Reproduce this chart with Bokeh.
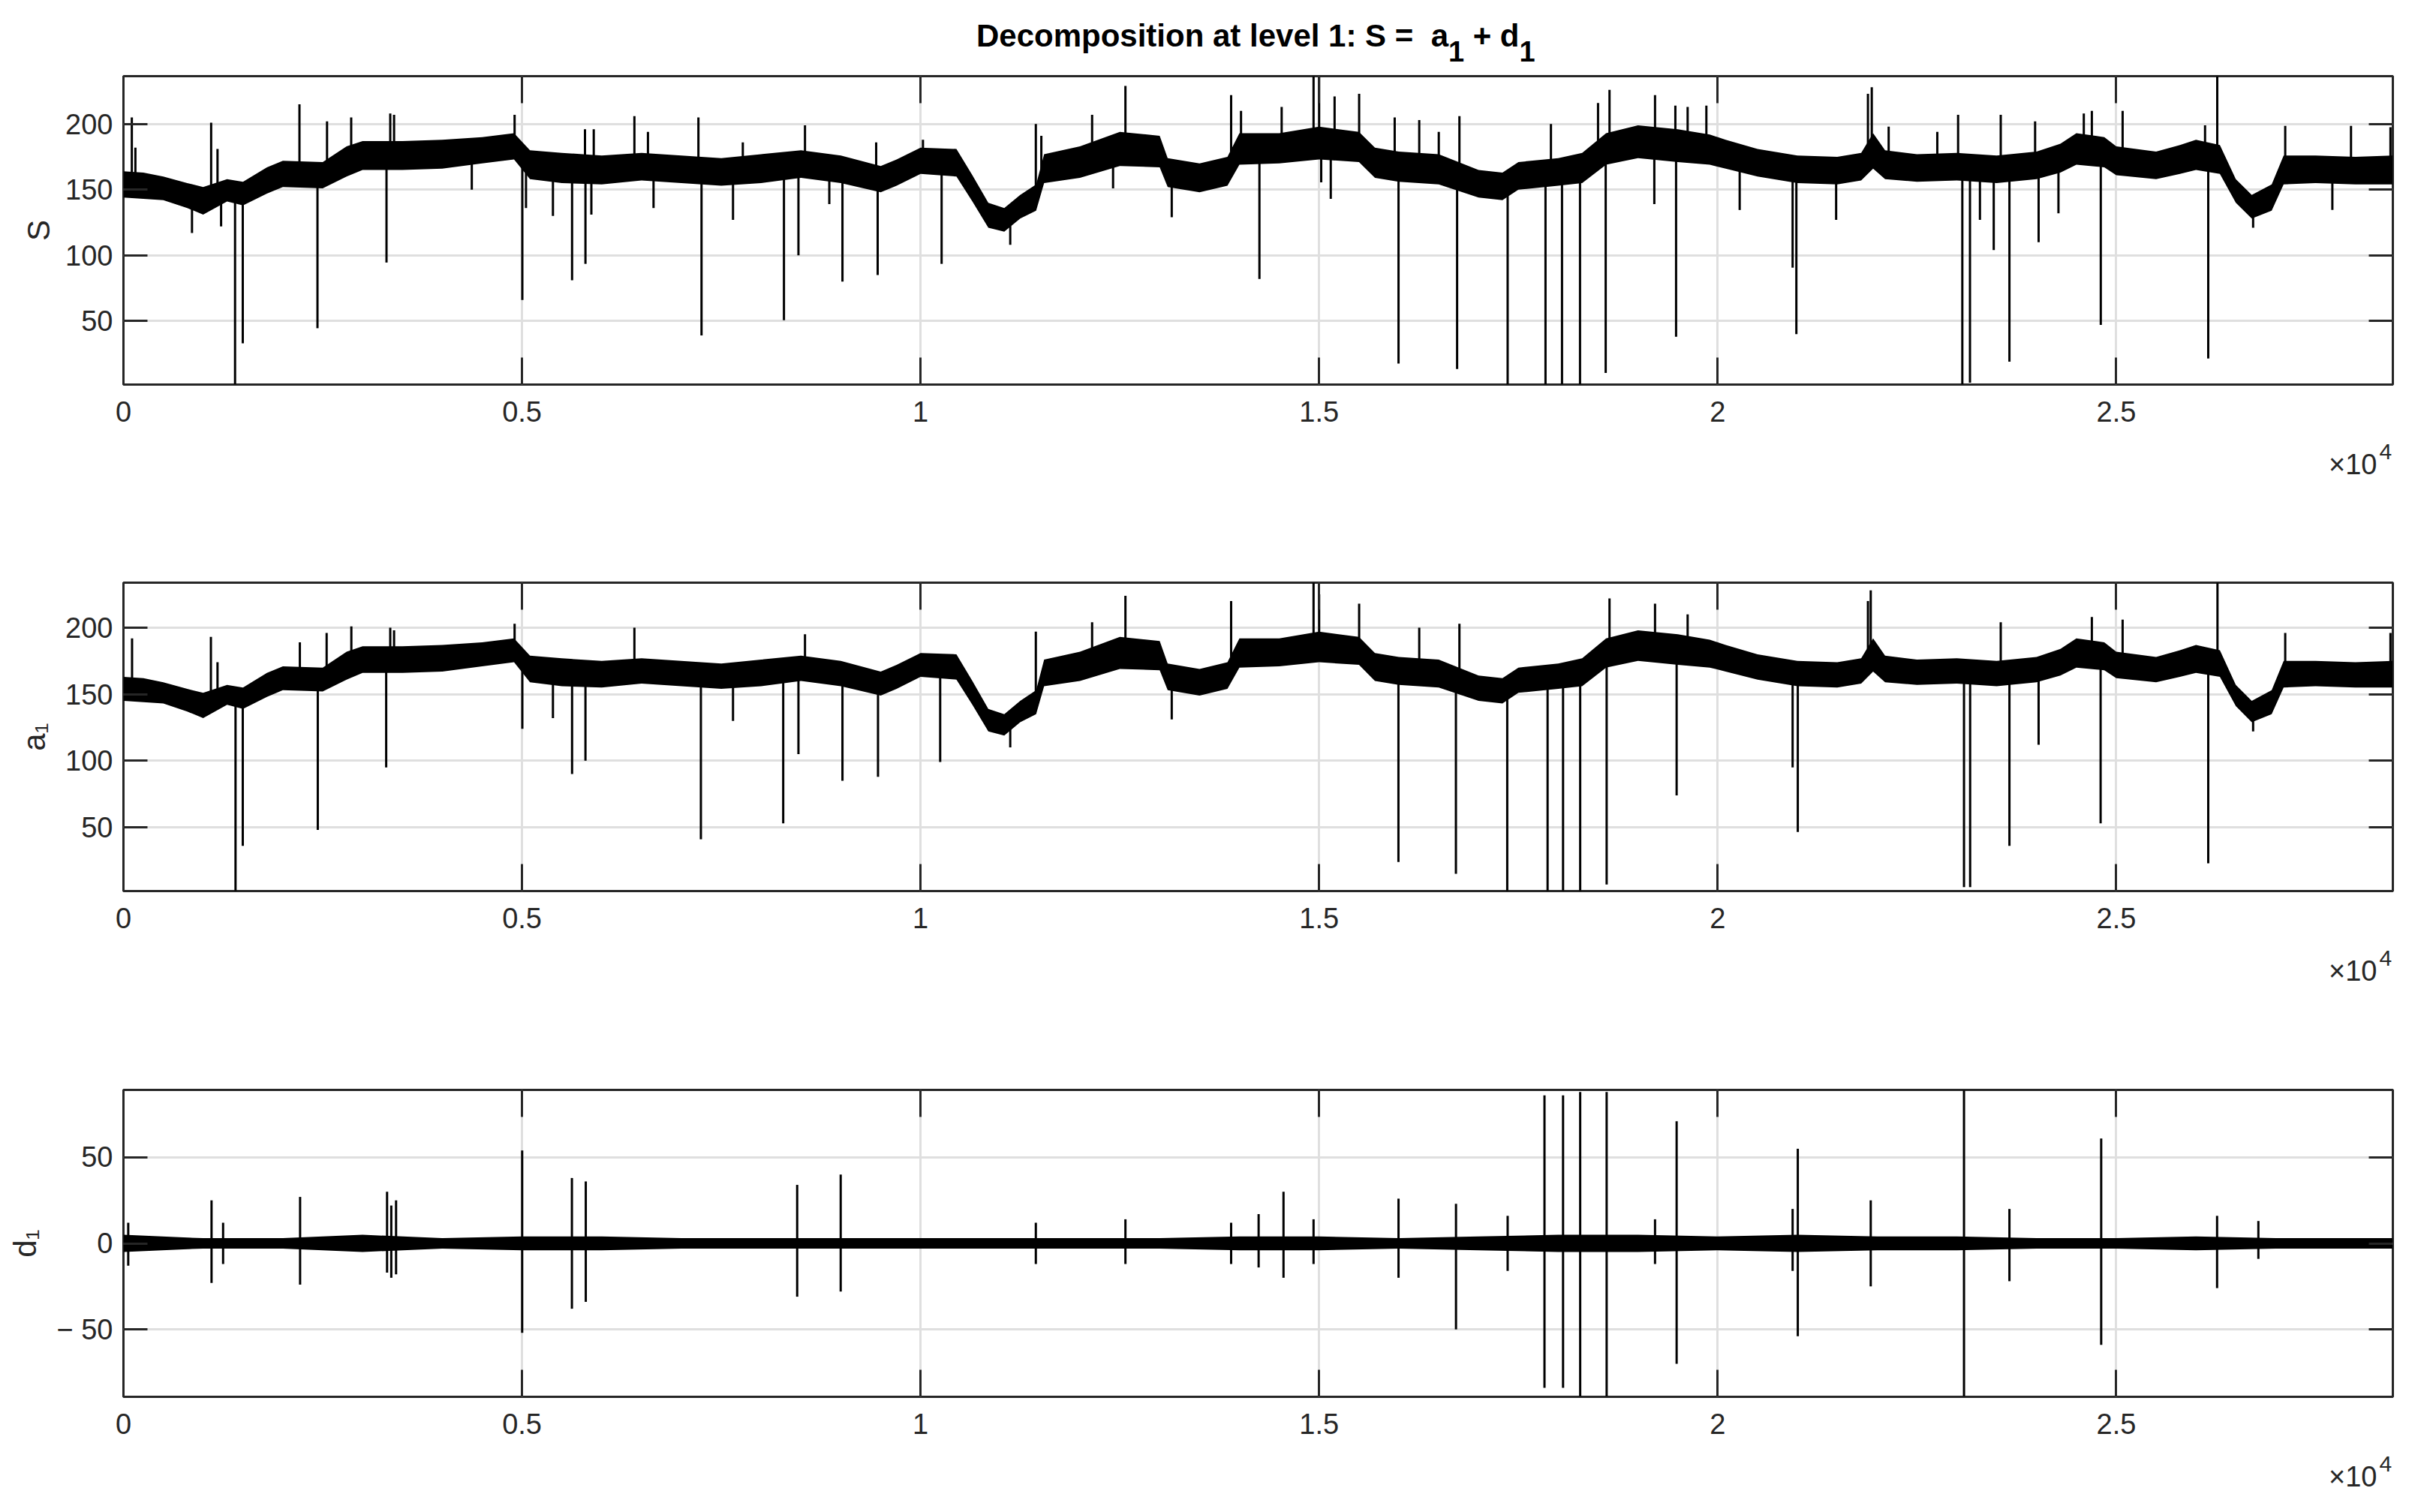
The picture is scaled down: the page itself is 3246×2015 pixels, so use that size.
import numpy as np
from bokeh.plotting import figure
from bokeh.layouts import column
from bokeh.models import Range1d, FixedTicker, LinearAxis, Label
from bokeh.embed import file_html
from bokeh.resources import INLINE

# ---------------- data ----------------
X_MAX = 28470
X_TICKS = [0, 5000, 10000, 15000, 20000, 25000]
X_TICK_LABELS = ["0", "0.5", "1", "1.5", "2", "2.5"]

S_YLIM = [1.6, 236.4]
A1_YLIM = [2.1, 233.8]
D1_YLIM = [-89.2, 89.2]
SA_YTICKS = [50, 100, 150, 200]
SA_YTICK_LABELS = ["50", "100", "150", "200"]
D1_YTICKS = [-50, 0, 50]
D1_YTICK_LABELS = ["\u2212 50", "0", "50"]

# dense core of the signal S (lower / upper envelope at knots)
S_knot_x = [0, 250, 500, 800, 1000, 1300, 1500, 1800, 2000, 2500,
            2800, 3000, 3500, 4000, 4500, 4900, 5100, 5500, 6000, 6500,
            7000, 7500, 8000, 8500, 9000, 9500, 9700, 10000, 10450, 10650,
            10850, 11050, 11250, 11450, 11550, 12000, 12500, 13000, 13100, 13500,
            13850, 14000, 14500, 15000, 15500, 15700, 16000, 16500, 17000, 17300,
            17500, 18000, 18300, 18600, 19000, 19500, 19900, 20100, 20500, 21000,
            21500, 21800, 21950, 22100, 22500, 23000, 23500, 24000, 24300, 24500,
            24850, 25000, 25500, 25800, 26000, 26300, 26500, 26700, 26950, 27100,
            27500, 28000, 28470]
S_lo = [144, 143, 142, 136, 131, 141, 138, 147, 152, 151,
        160, 165, 165, 166, 170, 173, 158, 155, 154, 157,
        155, 153, 155, 159, 155, 148, 153, 162, 160, 141,
        121, 118, 128, 134, 155, 159, 168, 167, 152, 148,
        153, 169, 170, 173, 171, 159, 156, 154, 144, 142,
        150, 153, 155, 169, 174, 171, 169, 166, 160, 155,
        154, 157, 166, 158, 156, 157, 155, 158, 163, 169,
        167, 161, 158, 162, 165, 162, 140, 128, 134, 154,
        155, 154, 154]
S_hi = [164, 163, 160, 155, 152, 158, 156, 167, 172, 171,
        183, 187, 187, 188, 190, 193, 180, 178, 176, 178,
        176, 174, 177, 180, 176, 168, 173, 182, 181, 161,
        140, 136, 146, 154, 177, 183, 194, 191, 174, 170,
        175, 193, 193, 198, 194, 182, 179, 177, 165, 163,
        171, 174, 178, 193, 199, 196, 192, 188, 181, 176,
        175, 178, 193, 180, 177, 178, 176, 179, 185, 193,
        190, 183, 179, 184, 188, 184, 158, 146, 154, 176,
        176, 175, 176]
S_spike_x = [105, 150, 860, 1100, 1180, 1225, 1400, 1497, 2208, 2434,
             2554, 2857, 3300, 3347, 3395, 4370, 4907, 5004, 5050, 5388,
             5628, 5790, 5796, 5870, 5900, 6410, 6580, 6650, 7213, 7252,
             7647, 7770, 8286, 8468, 8550, 8855, 9020, 9443, 9462, 10030,
             10264, 11125, 11446, 11515, 12152, 12415, 12450, 12570, 13151, 13896,
             14020, 14251, 14530, 14930, 15000, 15026, 15146, 15194, 15502, 15948,
             15996, 16256, 16501, 16731, 16760, 17365, 17840, 17908, 18047, 18273,
             18499, 18595, 18643, 19205, 19214, 19469, 19478, 19623, 19858, 20276,
             20940, 20987, 21486, 21885, 21933, 22145, 22755, 23016, 23069, 23165,
             23290, 23463, 23551, 23660, 23982, 24026, 24275, 24593, 24694, 24806,
             25080, 26114, 26154, 26267, 26717, 27120, 27711, 27945, 28440]
S_spike_y = [205, 182, 117, 201, 181, 122, 1.6, 33, 215, 44.5,
             202, 205, 94.5, 208, 207, 150, 207, 66, 136, 130,
             81, 196, 93.5, 131, 196, 206, 194, 136, 205, 39,
             127, 186, 50.6, 100, 199, 139, 80, 186, 85, 188,
             93.5, 108, 200, 191, 207, 151, 190, 229, 129, 222,
             210, 82, 213, 236.4, 236.4, 155.5, 143, 221, 223, 205,
             17.6, 203, 194, 13.4, 206, 1.6, 1.6, 200, 1.6, 1.6,
             216, 10.5, 226, 139, 222, 214, 38, 213, 214, 134.5,
             90.6, 40, 127, 223, 228, 198, 194, 207, 1.6, 3,
             127, 104, 207, 19, 202, 110, 132, 208, 210, 47,
             210, 199, 21.4, 236.4, 121, 198.5, 134.5, 198.5, 197.5]

# approximation a1 (same knots as S)
A1_lo = [145, 144, 143, 137, 132, 142, 139, 148, 153, 152,
         161, 166, 166, 167, 171, 174, 159, 156, 155, 158,
         156, 154, 156, 160, 156, 149, 154, 163, 161, 142,
         122, 119, 129, 135, 156, 160, 169, 168, 153, 149,
         154, 170, 171, 174, 172, 160, 157, 155, 145, 143,
         151, 154, 156, 170, 175, 172, 170, 167, 161, 156,
         155, 158, 167, 159, 157, 158, 156, 159, 164, 170,
         168, 162, 159, 163, 166, 163, 141, 129, 135, 155,
         156, 155, 155]
A1_hi = [163, 162, 159, 154, 151, 157, 155, 166, 171, 170,
         182, 186, 186, 187, 189, 192, 179, 177, 175, 177,
         175, 173, 176, 179, 175, 167, 172, 181, 180, 160,
         139, 135, 145, 153, 176, 182, 193, 190, 173, 169,
         174, 192, 192, 197, 193, 181, 178, 176, 164, 162,
         170, 173, 177, 192, 198, 195, 191, 187, 180, 175,
         174, 177, 192, 179, 176, 177, 175, 178, 184, 192,
         189, 182, 178, 183, 187, 183, 157, 145, 153, 175,
         175, 174, 175]
A1_spike_x = [108, 1097, 1180, 1406, 1497, 2213, 2438, 2549, 2859, 3296,
              3347, 3395, 4907, 5004, 5388, 5628, 5796, 6410, 7244, 7647,
              8277, 8468, 8550, 9020, 9466, 10246, 11125, 11446, 12152, 12570,
              13151, 13896, 14930, 15000, 15502, 15995, 16256, 16716, 16760, 17360,
              17866, 18060, 18275, 18607, 18643, 19214, 19485, 19623, 20940, 21005,
              21885, 21920, 23090, 23167, 23551, 23660, 24026, 24694, 24804, 25080,
              26154, 26270, 26717, 27120, 28440]
A1_spike_y = [192, 193, 174, 2.1, 36, 189, 48, 196, 201, 95,
              200, 198, 203, 124, 132, 90, 100, 200, 41, 130,
              53, 105, 195, 85, 88, 99, 110, 197, 204, 224,
              131, 220, 233.8, 225, 218, 24, 200, 15, 203, 2.1,
              2.1, 2.1, 2.1, 7, 222, 218, 74, 210, 95, 46.5,
              220, 228, 5, 5, 204, 36, 112, 208, 53, 206,
              23, 233.8, 122, 196, 196]

# detail d1
D1_knot_x = [0, 1000, 2000, 3000, 4000, 5000, 6000, 7000, 8000, 9000,
             10000, 11000, 12000, 13000, 14000, 15000, 16000, 17000, 18000, 19000,
             20000, 21000, 22000, 23000, 24000, 25000, 26000, 27000, 28000, 28470]
D1_hi = [5, 3, 3, 5, 3, 4, 4, 3, 3, 3,
         3, 3, 3, 3, 4, 4, 3, 4, 5, 5,
         4, 5, 4, 4, 3, 3, 4, 3, 3, 3]
D1_lo = [-5, -3, -3, -5, -3, -4, -4, -3, -3, -3,
         -3, -3, -3, -3, -4, -4, -3, -4, -5, -5,
         -4, -5, -4, -4, -3, -3, -4, -3, -3, -3]
D1_spike_x = [60, 1105, 1250, 2216, 3307, 3360, 3420, 5002, 5626, 5800,
              8452, 8998, 11446, 12570, 13896, 14241, 14553, 14930, 15996, 16717,
              17365, 17827, 18060, 18275, 18607, 19214, 19485, 20940, 21005, 21920,
              23090, 23660, 24811, 26265, 26783]
D1_spike_top = [12, 25, 12, 27, 30, 22, 25, 54, 38, 36,
                34, 40, 12, 14, 12, 17, 30, 14, 26, 23,
                16, 86, 86, 88, 88, 14, 71, 20, 55, 25,
                89, 20, 61, 16, 13]
D1_spike_bot = [-13, -23, -12, -24, -17, -20, -18, -52, -38, -34,
                -31, -28, -12, -12, -12, -14, -20, -12, -20, -50,
                -16, -84, -84, -89, -89, -12, -70, -16, -54, -25,
                -89, -22, -59, -26, -9]

# ---------------- styling / layout (pixel positions on the page) ----------------
FONT = "Liberation Sans"
AX_COL = "#262626"
GRID_COL = "#dfdfdf"
W = 3230
FRAME_L, FRAME_R = 164, 3188
FRAME_W = FRAME_R - FRAME_L      # 3024
BT, BB = 9, 70
TITLE_H = 92


def text_fig(height):
    """Text canvas whose frame lines up with the panels' frames; 1 data unit == 1 px,
    x measured from the page's left edge, y from the canvas bottom."""
    f = figure(width=W, height=height, x_range=Range1d(FRAME_L, FRAME_R),
               y_range=Range1d(0, height), x_axis_type=None, y_axis_type=None,
               title=None, output_backend="svg", toolbar_location=None, tools="",
               min_border=0, min_border_left=FRAME_L, min_border_right=W - FRAME_R,
               min_border_top=0, min_border_bottom=0)
    f.outline_line_color = None
    f.background_fill_color = "white"
    f.border_fill_color = "white"
    return f


def add_text(f, text, x, y_mid, size, align="left", bold=False, color=AX_COL):
    """y_mid: vertical middle of the text box, measured from the top of the canvas."""
    f.add_layout(Label(x=x, y=f.height - y_mid, text=text, text_font=FONT,
                       text_font_size=f"{size}px", text_align=align,
                       text_baseline="alphabetic",
                       text_font_style="bold" if bold else "normal",
                       text_color=color))


def make_panel(frame_h, ylim, yticks, ytick_labels, ylabel, ylabel_standoff):
    height = BT + frame_h + BB
    p = figure(width=W, height=height, x_range=Range1d(0, X_MAX),
               y_range=Range1d(ylim[0], ylim[1]), output_backend="svg",
               title=None, toolbar_location=None, tools="",
               min_border_left=FRAME_L, min_border_right=W - FRAME_R,
               min_border_top=BT, min_border_bottom=BB)
    p.background_fill_color = "white"
    p.border_fill_color = "white"
    p.outline_line_color = AX_COL
    p.outline_line_width = 3
    p.outline_line_alpha = 1.0

    bx = p.xaxis[0]
    bx.ticker = FixedTicker(ticks=X_TICKS)
    bx.major_label_overrides = {t: l for t, l in zip(X_TICKS, X_TICK_LABELS)}
    by = p.yaxis[0]
    by.ticker = FixedTicker(ticks=yticks)
    by.major_label_overrides = {t: l for t, l in zip(yticks, ytick_labels)}
    by.axis_label = ylabel
    by.axis_label_text_font = FONT
    by.axis_label_text_font_size = "42px"
    by.axis_label_text_font_style = "normal"
    by.axis_label_text_color = AX_COL
    by.axis_label_standoff = ylabel_standoff

    ax_top = LinearAxis(ticker=FixedTicker(ticks=X_TICKS),
                        major_label_overrides={t: "" for t in X_TICKS})
    ax_right = LinearAxis(ticker=FixedTicker(ticks=yticks),
                          major_label_overrides={t: "" for t in yticks})
    p.add_layout(ax_top, "above")
    p.add_layout(ax_right, "right")

    for ax, tin in ((bx, 36), (ax_top, 36), (by, 32), (ax_right, 32)):
        ax.axis_line_color = None
        ax.major_tick_in = tin
        ax.major_tick_out = 0
        ax.minor_tick_line_color = None
        ax.major_tick_line_color = AX_COL
        ax.major_tick_line_width = 3
        ax.major_label_text_font = FONT
        ax.major_label_text_color = AX_COL
        ax.major_label_text_font_size = "38px"
    for ax in (ax_top, ax_right):
        ax.major_label_text_font_size = "0px"
        ax.major_label_standoff = 0
    bx.major_label_standoff = 22
    by.major_label_standoff = 14

    p.xgrid.grid_line_color = GRID_COL
    p.xgrid.grid_line_width = 3
    p.ygrid.grid_line_color = GRID_COL
    p.ygrid.grid_line_width = 3
    return p


def draw_signal(p, kx, lo, hi, sx, sy):
    kx = np.asarray(kx, float)
    lo = np.asarray(lo, float)
    hi = np.asarray(hi, float)
    p.varea(x=kx, y1=lo, y2=hi, fill_color="black", fill_alpha=1.0)
    mid = np.interp(np.asarray(sx, float), kx, (lo + hi) / 2.0)
    p.segment(x0=sx, y0=mid, x1=sx, y1=sy, line_color="black", line_width=3)


def exponent_strip(height):
    # strip starts BB px below the frame bottom; "x10" baseline sits 119.5 px below it
    f = text_fig(height)
    add_text(f, "\u00d710", FRAME_R - 21, 106 - BB, 38, align="right")
    add_text(f, "4", FRAME_R - 18, 89.5 - BB, 30)
    return f


# ---- title strip (baselines at y=61 and, for the subscripts, y=81) ----
title = text_fig(TITLE_H)
A_END = 1929.5
add_text(title, "Decomposition at level 1: S =\u00a0\u00a0a", A_END, 46.5, 42,
         align="right", bold=True, color="black")
add_text(title, "1", A_END, 68, 38, bold=True, color="black")
add_text(title, "\u00a0+ d", A_END + 21, 46.5, 42, bold=True, color="black")
add_text(title, "1", A_END + 94.5, 68, 38, bold=True, color="black")

# ---- panels ----
p1 = make_panel(411, S_YLIM, SA_YTICKS, SA_YTICK_LABELS, "S", 9)
draw_signal(p1, S_knot_x, S_lo, S_hi, S_spike_x, S_spike_y)

p2 = make_panel(411, A1_YLIM, SA_YTICKS, SA_YTICK_LABELS, "a\u2081", 15)
draw_signal(p2, S_knot_x, A1_lo, A1_hi, A1_spike_x, A1_spike_y)

p3 = make_panel(409, D1_YLIM, D1_YTICKS, D1_YTICK_LABELS, "d\u2081", 15)
p3.varea(x=D1_knot_x, y1=D1_lo, y2=D1_hi, fill_color="black", fill_alpha=1.0)
p3.segment(x0=D1_spike_x, y0=D1_spike_bot, x1=D1_spike_x, y1=D1_spike_top,
           line_color="black", line_width=3)

# exponent strips between panels
e1 = exponent_strip(776 - 512 - BB - BT)
e2 = exponent_strip(1452 - 1187 - BB - BT)
used = TITLE_H + p1.height + e1.height + p2.height + e2.height + p3.height
e3 = exponent_strip(1999 - used)

layout = column(title, p1, e1, p2, e2, p3, e3, spacing=0)
open("out.html", "w").write(file_html(layout, INLINE))
